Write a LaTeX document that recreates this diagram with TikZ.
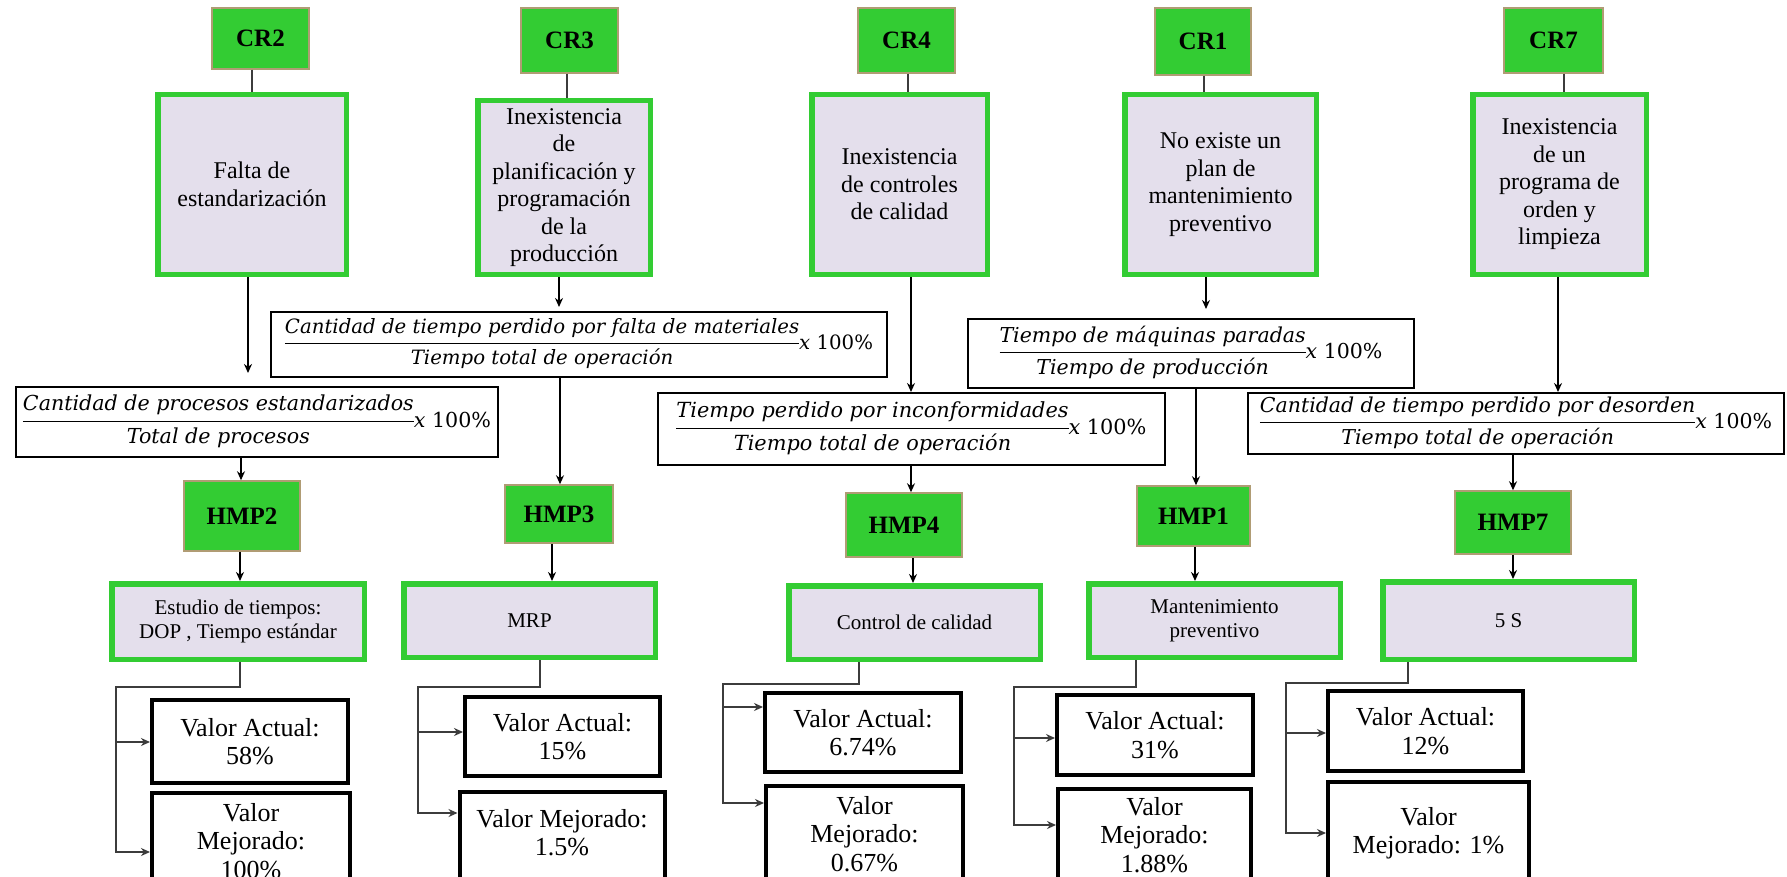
\documentclass[tikz,border=0pt]{standalone}
\usepackage{fontspec}
\setmainfont{Liberation Serif}
\newfontfamily\eqfont{DejaVu Serif}
\usepackage{graphicx}
\usetikzlibrary{arrows.meta}

\definecolor{crgreen}{RGB}{51,204,51}
\definecolor{crborder}{RGB}{176,156,116}
\definecolor{lav}{RGB}{228,223,236}
\definecolor{railgray}{RGB}{60,60,60}

% indicator: fraction followed by "x 100%", scaled to a given width
\newcommand\ratio[3]{%
  \resizebox{#1pt}{!}{\eqfont\fontsize{20.5}{24.6}\selectfont
    \begin{tabular}{@{}c@{}}\itshape #2\\[2.6pt]\hline\rule{0pt}{22pt}\itshape #3\end{tabular}%
    \textit{x} 100\%}}

\tikzset{
  crbox/.style={draw=crborder, line width=1.5pt, fill=crgreen, inner sep=0pt,
    font=\fontsize{25}{30}\selectfont\bfseries},
  probbox/.style={draw=crgreen, line width=5.5pt, fill=lav, align=center, inner sep=0pt,
    font=\fontsize{24}{27.5}\selectfont},
  formbox/.style={draw=black, line width=2pt, fill=white, inner sep=0pt},
  solbox/.style={draw=crgreen, line width=5.5pt, fill=lav, align=center, inner sep=0pt,
    font=\fontsize{21}{24}\selectfont},
  valbox/.style={draw=black, line width=4pt, fill=white, align=center, inner sep=0pt,
    font=\fontsize{26}{28.5}\selectfont},
  arr/.style={draw=black, line width=1.8pt, -{Stealth[length=9pt,width=8pt]}},
  link/.style={draw=railgray, line width=2pt},
  railarr/.style={link, -{Stealth[length=9pt,width=8pt]}},
}

\begin{document}
\begin{tikzpicture}[x=1pt,y=-1pt]
\useasboundingbox (0,0) rectangle (1787,877);
\clip (0,0) rectangle (1787,877);
\fill[white] (0,0) rectangle (1787,877);

% ---- critical causes
\node[crbox, minimum width=97, minimum height=61] (cr2) at (260.5,38.5) {CR2};
\node[crbox, minimum width=97, minimum height=65] (cr3) at (569.5,40.5) {CR3};
\node[crbox, minimum width=97, minimum height=65] (cr4) at (906.5,40.5) {CR4};
\node[crbox, minimum width=96, minimum height=67] (cr1) at (1203,41.5) {CR1};
\node[crbox, minimum width=99, minimum height=65] (cr7) at (1553.5,40.5) {CR7};

% ---- problems
\node[probbox, minimum width=188.5, minimum height=179.5] (p2) at (252,184.5)
  {Falta de\\estandarización};
\node[probbox, minimum width=172.5, minimum height=173.5] (p3) at (564,187.5)
  {Inexistencia\\de\\planificación y\\programación\\de la\\producción};
\node[probbox, minimum width=175.5, minimum height=179.5] (p4) at (899.5,184.5)
  {Inexistencia\\de controles\\de calidad};
\node[probbox, minimum width=191.5, minimum height=179.5] (p1) at (1220.5,184.5)
  {No existe un\\plan de\\mantenimiento\\preventivo};
\node[probbox, minimum width=173.5, minimum height=179.5] (p7) at (1559.5,184.5)
  {Inexistencia\\de un\\programa de\\orden y\\limpieza};

% ---- indicators
\node[formbox, minimum width=482, minimum height=70] (f2) at (257,422)
  {\ratio{468}{Cantidad de procesos estandarizados}{Total de procesos}};
\node[formbox, minimum width=616, minimum height=65] (f3) at (579,344.5)
  {\ratio{588}{Cantidad de tiempo perdido por falta de materiales}{Tiempo total de operación}};
\node[formbox, minimum width=507, minimum height=72] (f4) at (911.5,429)
  {\ratio{470}{Tiempo perdido por inconformidades}{Tiempo total de operación}};
\node[formbox, minimum width=446, minimum height=69] (f1) at (1191,353.5)
  {\ratio{383}{Tiempo de máquinas paradas}{Tiempo de producción}};
\node[formbox, minimum width=536, minimum height=61] (f7) at (1516,423.5)
  {\ratio{512}{Cantidad de tiempo perdido por desorden}{Tiempo total de operación}};

% ---- tools
\node[crbox, minimum width=116, minimum height=70] (hmp2) at (242,516) {HMP2};
\node[crbox, minimum width=108, minimum height=58] (hmp3) at (559,514) {HMP3};
\node[crbox, minimum width=116, minimum height=64] (hmp4) at (904,525) {HMP4};
\node[crbox, minimum width=113, minimum height=60] (hmp1) at (1193.5,516) {HMP1};
\node[crbox, minimum width=116, minimum height=63] (hmp7) at (1513,522.5) {HMP7};

% ---- solutions
\node[solbox, minimum width=252.5, minimum height=75.5] (s2) at (238,621.5)
  {Estudio de tiempos:\\DOP , Tiempo estándar};
\node[solbox, minimum width=251.5, minimum height=73.5] (s3) at (529.5,620.5) {MRP};
\node[solbox, minimum width=251.5, minimum height=73.5] (s4) at (914.5,622.5) {Control de calidad};
\node[solbox, minimum width=251.5, minimum height=73.5] (s1) at (1214.5,620.5)
  {Mantenimiento\\preventivo};
\node[solbox, minimum width=251.5, minimum height=77.5] (s7) at (1508.5,620.5) {5 S};

% ---- current values
\node[valbox, minimum width=196, minimum height=83] (va2) at (250,741.5) {Valor Actual:\\58\%};
\node[valbox, minimum width=195, minimum height=79] (va3) at (562.5,736.5) {Valor Actual:\\15\%};
\node[valbox, minimum width=196, minimum height=79] (va4) at (863,732.5) {Valor Actual:\\6.74\%};
\node[valbox, minimum width=196, minimum height=80] (va1) at (1155,735) {Valor Actual:\\31\%};
\node[valbox, minimum width=195, minimum height=80] (va7) at (1425.5,731) {Valor Actual:\\12\%};

% ---- improved values (boxes run past the lower edge)
\node[valbox, minimum width=198, anchor=north] (vm2) at (251,791)
  {\rule{0pt}{28pt}Valor\\Mejorado:\\100\%\rule[-100pt]{0pt}{0pt}};
\node[valbox, minimum width=205, anchor=north] (vm3) at (562,790)
  {\rule{0pt}{35pt}Valor Mejorado:\\1.5\%\rule[-100pt]{0pt}{0pt}};
\node[valbox, minimum width=197, anchor=north] (vm4) at (864.5,784)
  {\rule{0pt}{28pt}Valor\\Mejorado:\\0.67\%\rule[-100pt]{0pt}{0pt}};
\node[valbox, minimum width=193, anchor=north] (vm1) at (1154.5,787)
  {\rule{0pt}{26pt}Valor\\Mejorado:\\1.88\%\rule[-100pt]{0pt}{0pt}};
\node[valbox, minimum width=201, anchor=north] (vm7) at (1428.5,780)
  {\rule{0pt}{43pt}Valor\\Mejorado: 1\%\rule[-100pt]{0pt}{0pt}};

% ---- cause -> problem
\draw[link] ([xshift=-8.5pt]cr2.south) -- ([xshift=-8.5pt]cr2.south |- p2.north);
\draw[link] ([xshift=-2.5pt]cr3.south) -- ([xshift=-2.5pt]cr3.south |- p3.north);
\draw[link] ([xshift=1.5pt]cr4.south) -- ([xshift=1.5pt]cr4.south |- p4.north);
\draw[link] ([xshift=1pt]cr1.south) -- ([xshift=1pt]cr1.south |- p1.north);
\draw[link] ([xshift=10.5pt]cr7.south) -- ([xshift=10.5pt]cr7.south |- p7.north);

% ---- problem -> indicator
\draw[arr, shorten >=13pt] ([xshift=-4pt]p2.south) -- ([xshift=-4pt]p2.south |- f2.north);
\draw[arr, shorten >=4pt] ([xshift=-5pt]p3.south) -- ([xshift=-5pt]p3.south |- f3.north);
\draw[arr] ([xshift=11.5pt]p4.south) -- ([xshift=11.5pt]p4.south |- f4.north);
\draw[arr, shorten >=9pt] ([xshift=-14.5pt]p1.south) -- ([xshift=-14.5pt]p1.south |- f1.north);
\draw[arr] ([xshift=-1.5pt]p7.south) -- ([xshift=-1.5pt]p7.south |- f7.north);

% ---- indicator -> tool
\draw[arr] ([xshift=-1pt]hmp2.north |- f2.south) -- ([xshift=-1pt]hmp2.north);
\draw[arr] ([xshift=1pt]hmp3.north |- f3.south) -- ([xshift=1pt]hmp3.north);
\draw[arr] ([xshift=7pt]hmp4.north |- f4.south) -- ([xshift=7pt]hmp4.north);
\draw[arr] ([xshift=2.5pt]hmp1.north |- f1.south) -- ([xshift=2.5pt]hmp1.north);
\draw[arr] (hmp7.north |- f7.south) -- (hmp7.north);

% ---- tool -> solution
\draw[arr] ([xshift=-2pt]hmp2.south) -- ([xshift=-2pt]hmp2.south |- s2.north);
\draw[arr] ([xshift=-7pt]hmp3.south) -- ([xshift=-7pt]hmp3.south |- s3.north);
\draw[arr] ([xshift=9pt]hmp4.south) -- ([xshift=9pt]hmp4.south |- s4.north);
\draw[arr] ([xshift=1.5pt]hmp1.south) -- ([xshift=1.5pt]hmp1.south |- s1.north);
\draw[arr] (hmp7.south) -- (hmp7.south |- s7.north);

% ---- solution -> values
\coordinate (e2) at (116,687);  \coordinate (m2) at (116,742);  \coordinate (b2) at (116,852);
\coordinate (e3) at (418,687);  \coordinate (m3) at (418,732);  \coordinate (b3) at (418,813);
\coordinate (e4) at (723,684);  \coordinate (m4) at (723,707);  \coordinate (b4) at (723,803);
\coordinate (e1) at (1014,687); \coordinate (m1) at (1014,738); \coordinate (b1) at (1014,825);
\coordinate (e7) at (1286,683); \coordinate (m7) at (1286,733); \coordinate (b7) at (1286,833);

\draw[railarr] ([xshift=2pt]s2.south) |- (e2) -- (b2) -- (vm2.west |- b2);
\draw[railarr] (m2) -- (va2.west |- m2);
\draw[railarr] ([xshift=10.5pt]s3.south) |- (e3) -- (b3) -- (vm3.west |- b3);
\draw[railarr] (m3) -- (va3.west |- m3);
\draw[railarr] ([xshift=-55.5pt]s4.south) |- (e4) -- (b4) -- (vm4.west |- b4);
\draw[railarr] (m4) -- (va4.west |- m4);
\draw[railarr] ([xshift=-78.5pt]s1.south) |- (e1) -- (b1) -- (vm1.west |- b1);
\draw[railarr] (m1) -- (va1.west |- m1);
\draw[railarr] ([xshift=-100.5pt]s7.south) |- (e7) -- (b7) -- (vm7.west |- b7);
\draw[railarr] (m7) -- (va7.west |- m7);
\end{tikzpicture}
\end{document}
